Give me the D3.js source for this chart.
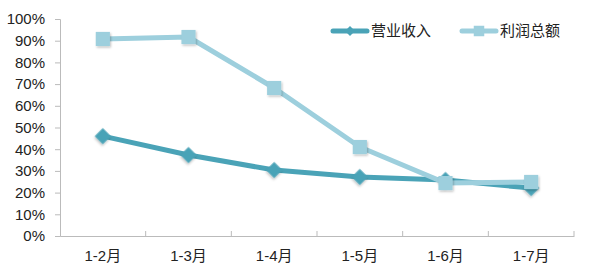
<!DOCTYPE html>
<html>
<head>
<meta charset="utf-8">
<script src="https://cdn.jsdelivr.net/npm/d3@7"></script>
<style>
	body { margin: 0; background: #fff; overflow: hidden; }
	svg { display: block; }
	svg text { font-family: "Liberation Sans", "Noto Sans CJK SC", sans-serif; fill: #222; }
</style>
</head>
<body>
<div id="chart"></div>
<script>
const months = ['1-2月', '1-3月', '1-4月', '1-5月', '1-6月', '1-7月']
const revenue = [46, 37.3, 30.4, 27.2, 25.8, 22.1]
const profit = [90.8, 91.7, 68.2, 41, 24.4, 24.9]
const yTicks = [0, 10, 20, 30, 40, 50, 60, 70, 80, 90, 100]
const seriesNames = ['营业收入', '利润总额']

const margins = { top: 19, left: 60, bottom: 39, right: 26 }
const width = 600
const height = 275
const innerWidth = width - margins.left - margins.right
const innerHeight = height - margins.top - margins.bottom

const svg = d3.select('#chart').append('svg')
	.attr('width', width)
	.attr('height', height)

const defs = svg.append('defs')
defs.append('filter').attr('id', 'shadow')
	.attr('x', '-50%').attr('y', '-50%').attr('width', '200%').attr('height', '200%')
	.append('feDropShadow')
	.attr('dx', 1).attr('dy', 1.5).attr('stdDeviation', 1)
	.attr('flood-color', '#000').attr('flood-opacity', 0.25)

const x = d3.scaleBand().domain(months).range([0, innerWidth])
const y = d3.scaleLinear().domain([0, 100]).range([innerHeight, 0])

const g = svg.append('g').attr('transform', `translate(${margins.left},${margins.top})`)

// y axis
const yAxis = g.append('g')
	.call(d3.axisLeft(y).tickValues(yTicks).tickSize(5).tickFormat((d) => d + '%'))
yAxis.attr('font-family', null).attr('font-size', null)
yAxis.select('.domain').attr('stroke', '#bbb')
yAxis.selectAll('.tick line').attr('stroke', '#bbb')
yAxis.selectAll('.tick text').attr('x', -15).style('font-size', '15px').attr('fill', '#222')

// x axis
const xAxis = g.append('g')
	.attr('transform', `translate(0,${innerHeight})`)
	.call(d3.axisBottom(x).tickSize(0).tickPadding(14))
xAxis.attr('font-family', null).attr('font-size', null)
xAxis.select('.domain').attr('stroke', '#bbb')
xAxis.selectAll('.tick text').style('font-size', '15px').attr('fill', '#222')
xAxis.selectAll('.sep')
	.data(months.slice(1).concat(['end']))
	.enter().append('line')
	.attr('class', 'sep')
	.attr('x1', (d, i) => x.step() * (i + 1))
	.attr('x2', (d, i) => x.step() * (i + 1))
	.attr('y1', 0).attr('y2', -5)
	.attr('stroke', '#bbb')

const cx = (d, i) => x(months[i]) + x.bandwidth() / 2
const line = d3.line().x(cx).y((d) => y(d))

const series = [
	{ name: seriesNames[0], values: revenue, color: '#4aa3b7', rotate: 45, size: 130 },
	{ name: seriesNames[1], values: profit, color: '#9dcfdd', rotate: 0, size: 200 }
]

series.forEach((s) => {
	g.append('path')
		.datum(s.values)
		.attr('fill', 'none')
		.attr('stroke', s.color)
		.attr('stroke-width', 5)
		.attr('stroke-linejoin', 'round')
		.attr('d', line)

	g.selectAll(null)
		.data(s.values)
		.enter().append('path')
		.attr('transform', (d, i) => `translate(${cx(d, i)},${y(d)}) rotate(${s.rotate})`)
		.attr('d', d3.symbol().type(d3.symbolSquare).size(s.size))
		.attr('fill', s.color)
		.attr('filter', 'url(#shadow)')
})

// legend
const legend = svg.append('g').attr('transform', 'translate(333,31)')
series.forEach((s, i) => {
	const lg = legend.append('g').attr('transform', `translate(${i * 129},0)`)
	lg.append('line')
		.attr('x1', 0).attr('x2', 34).attr('y1', 0).attr('y2', 0)
		.attr('stroke', s.color).attr('stroke-width', 5).attr('stroke-linecap', 'round')
	lg.append('path')
		.attr('transform', `translate(17,0) rotate(${s.rotate})`)
		.attr('d', d3.symbol().type(d3.symbolSquare).size(i === 0 ? 50 : 110))
		.attr('fill', s.color)
	lg.append('text')
		.attr('x', 38).attr('y', 0).attr('dy', '0.35em')
		.style('font-size', '15px')
		.text(s.name)
})
</script>
</body>
</html>
